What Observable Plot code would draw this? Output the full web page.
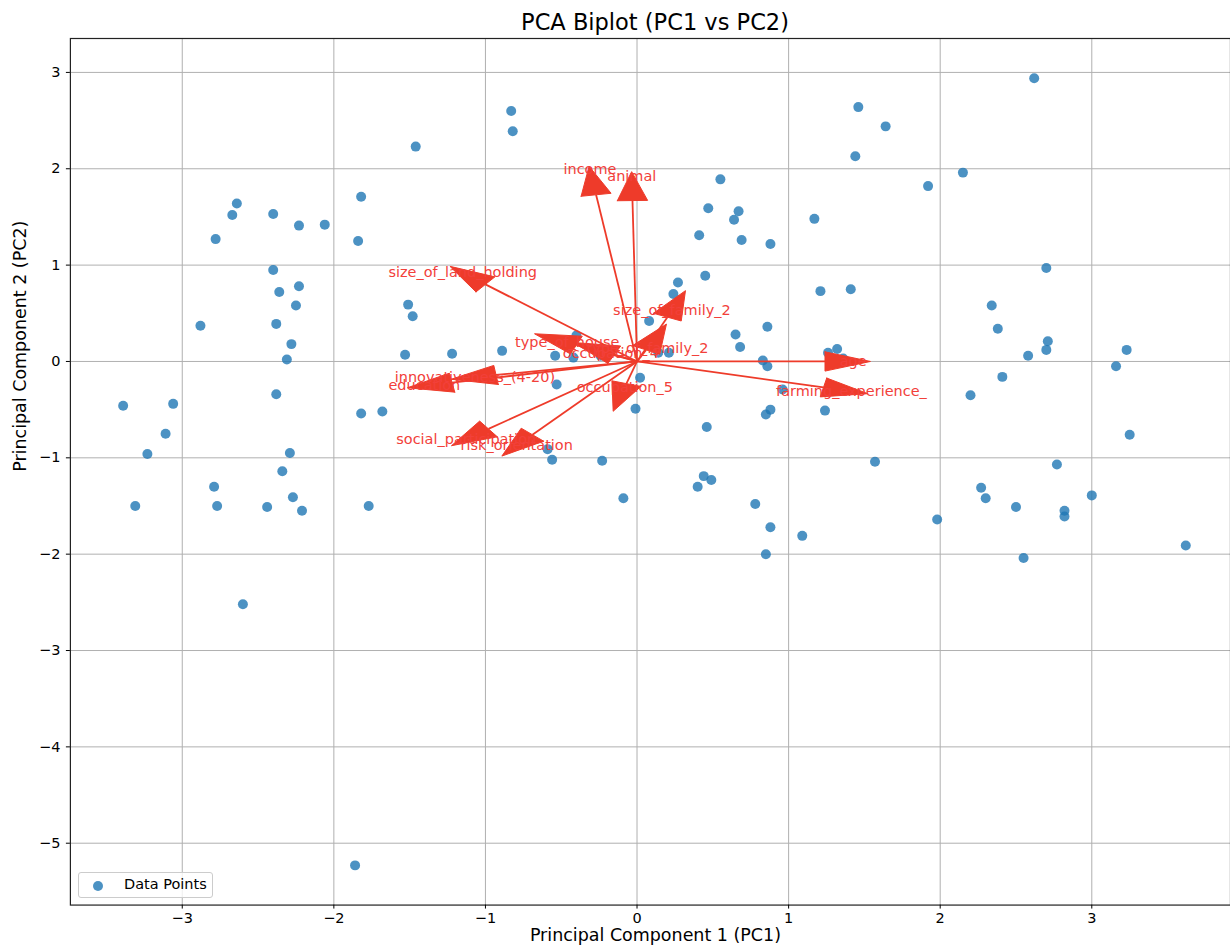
<!DOCTYPE html>
<html>
<head>
<meta charset="utf-8">
<script src="https://cdn.jsdelivr.net/npm/d3@7"></script>
<script src="https://cdn.jsdelivr.net/npm/@observablehq/plot@0.6"></script>
<style>
  html, body { margin: 0; padding: 0; background: #fff; overflow: hidden; }
  #wrap { position: relative; width: 1230px; height: 952px; font-family: "DejaVu Sans", sans-serif; }
  #title { height: 37px; width: 1310px; text-align: center; font-size: 22.5px; line-height: 26px; box-sizing: border-box; color: #000; }
  #title span { position: relative; top: 9px; }
  #legend { position: absolute; left: 78px; top: 872px; width: 135px; height: 26px; border: 1px solid #cccccc; border-radius: 3px; background: rgba(255,255,255,0.8); box-sizing: border-box; font-size: 14.5px; color: #000; }
  #legend .dot { position: absolute; left: 14px; top: 8px; width: 10px; height: 10px; border-radius: 50%; background: #1f77b4; opacity: 0.8; }
  #legend .lbl { position: absolute; left: 45px; top: 3px; }
</style>
</head>
<body>
<div id="wrap">
  <div id="title"><span>PCA Biplot (PC1 vs PC2)</span></div>
  <div id="chart"></div>
  <div id="legend"><div class="dot"></div><div class="lbl">Data Points</div></div>
</div>
<script>
// ---- Data: principal component scores ----
const pc1 = [
  -3.39, -3.06, -3.11, -3.23, -3.31, -2.88, -2.78, -2.67, -2.64, -2.79,
  -2.77, -2.60, -2.40, -2.40, -2.36, -2.38, -2.38, -2.31, -2.28, -2.29,
  -2.34, -2.27, -2.44, -2.21, -2.23, -2.25, -2.23, -2.06, -1.84, -1.82,
  -1.82, -1.68, -1.77, -1.86, -1.46, -1.51, -1.48, -1.53, -1.22, -0.89,
  -0.83, -0.82, -0.59, -0.56, -0.53, -0.54, -0.42, -0.40, -0.23, -0.09,
  -0.01, 0.02, 0.08, 0.14, 0.21, -0.24, 0.24, 0.27, 0.41, 0.47,
  0.55, 0.45, 0.64, 0.67, 0.69, 0.65, 0.68, 0.40, 0.44, 0.49,
  0.46, 0.88, 0.86, 0.83, 0.86, 0.88, 0.85, 0.78, 0.88, 0.85,
  0.96, 1.09, 1.17, 1.21, 1.41, 1.24, 1.26, 1.32, 1.36, 1.46,
  1.44, 1.64, 1.57, 1.92, 2.15, 1.98, 2.20, 2.34, 2.38, 2.41,
  2.27, 2.30, 2.50, 2.55, 2.58, 2.62, 2.70, 2.71, 2.70, 2.77,
  2.82, 2.82, 3.00, 3.16, 3.23, 3.25, 3.62
];
const pc2 = [
  -0.46, -0.44, -0.75, -0.96, -1.50, 0.37, 1.27, 1.52, 1.64, -1.30,
  -1.50, -2.52, 1.53, 0.95, 0.72, 0.39, -0.34, 0.02, 0.18, -0.95,
  -1.14, -1.41, -1.51, -1.55, 0.78, 0.58, 1.41, 1.42, 1.25, 1.71,
  -0.54, -0.52, -1.50, -5.23, 2.23, 0.59, 0.47, 0.07, 0.08, 0.11,
  2.60, 2.39, -0.91, -1.02, -0.24, 0.06, 0.04, 0.27, -1.03, -1.42,
  -0.49, -0.17, 0.42, 0.09, 0.09, 0.06, 0.70, 0.82, 1.31, 1.59,
  1.89, 0.89, 1.47, 1.56, 1.26, 0.28, 0.15, -1.30, -1.19, -1.23,
  -0.68, 1.22, 0.36, 0.01, -0.05, -0.50, -0.55, -1.48, -1.72, -2.00,
  -0.29, -1.81, 1.48, 0.73, 0.75, -0.51, 0.09, 0.13, 0.03, 2.64,
  2.13, 2.44, -1.04, 1.82, 1.96, -1.64, -0.35, 0.58, 0.34, -0.16,
  -1.31, -1.42, -1.51, -2.04, 0.06, 2.94, 0.12, 0.21, 0.97, -1.07,
  -1.55, -1.61, -1.39, -0.05, 0.12, -0.76, -1.91
];

// ---- Data: variable loadings (arrows) ----
const varNames = [
  "income", "animal", "size_of_land_holding", "size_of_family_2",
  "type_of_house", "type_of_family_2", "occupation_4", "occupation_5",
  "innovativeness_(4-20)", "education", "social_participation",
  "risk_orientation", "age", "farming_experience_"
];
const loadPC1 = [-0.27, -0.03, -1.00, 0.20, -0.40, 0.06, -0.15, -0.07, -0.93, -1.22, -0.98, -0.69, 1.24, 1.23];
const loadPC2 = [1.73, 1.67, 0.80, 0.46, 0.17, 0.12, 0.07, -0.23, -0.14, -0.22, -0.70, -0.76, 0.00, -0.27];

// ---- Tick values ----
const xTicks = [-3, -2, -1, 0, 1, 2, 3];
const yTicks = [-5, -4, -3, -2, -1, 0, 1, 2, 3];

// ---- Build tables ----
const points = pc1.map((v, i) => ({x: v, y: pc2[i]}));
const arrows = varNames.map((n, i) => ({name: n, x: loadPC1[i], y: loadPC2[i]}));

// arrow heads as in matplotlib (data units): head_width 0.2, head_length 0.3
const headWidth = 0.2, headLength = 0.3, labelScale = 1.15;
const heads = [];
for (const a of arrows) {
  const len = Math.hypot(a.x, a.y);
  const ux = a.x / len, uy = a.y / len;
  const nx = -uy, ny = ux;
  const tip = {x: a.x + headLength * ux, y: a.y + headLength * uy};
  const l = {x: a.x + nx * headWidth / 2, y: a.y + ny * headWidth / 2};
  const r = {x: a.x - nx * headWidth / 2, y: a.y - ny * headWidth / 2};
  for (const p of [l, tip, r, l]) heads.push({name: a.name, x: p.x, y: p.y});
}

const arrowColor = "#ee3b2a";
const textColor = "#f2403a";
const intFmt = d => (d < 0 ? "\u2212" : "") + Math.abs(d).toString();

const chart = Plot.plot({
  width: 1232,
  height: 915,
  marginTop: 1,
  marginLeft: 70,
  marginRight: 0,
  marginBottom: 46,
  style: {fontFamily: "DejaVu Sans, sans-serif", fontSize: "14.5px", background: "#fff", color: "#000"},
  x: {domain: [-3.738, 3.915]},
  y: {domain: [-5.642, 3.352]},
  marks: [
    Plot.gridX(xTicks, {stroke: "#b0b0b0", strokeOpacity: 1, strokeWidth: 1}),
    Plot.gridY(yTicks, {stroke: "#b0b0b0", strokeOpacity: 1, strokeWidth: 1}),
    Plot.dot(points, {x: "x", y: "y", r: 5, fill: "#1f77b4", fillOpacity: 0.8, stroke: null}),
    Plot.link(arrows, {x1: d => 0, y1: d => 0, x2: "x", y2: "y", stroke: arrowColor, strokeWidth: 1.8}),
    Plot.line(heads, {x: "x", y: "y", z: "name", fill: arrowColor, stroke: arrowColor, strokeWidth: 1, curve: "linear"}),
    Plot.text(arrows, {x: d => d.x * labelScale, y: d => d.y * labelScale, text: "name", fill: textColor, fontSize: 14.5, textAnchor: "middle"}),
    Plot.frame({stroke: "#222", strokeWidth: 1.2}),
    Plot.axisX(xTicks, {tickSize: 4, tickPadding: 4, label: null, fontSize: 14.5, stroke: "#000", tickFormat: intFmt}),
    Plot.axisY(yTicks, {tickSize: 4, tickPadding: 6, label: null, fontSize: 14.5, stroke: "#000", tickFormat: intFmt}),
    Plot.text(["Principal Component 1 (PC1)"], {frameAnchor: "bottom", dx: 5, dy: 36, fontSize: 17.5, fill: "#000"}),
    Plot.text(["Principal Component 2 (PC2)"], {frameAnchor: "left", dx: -50, rotate: -90, fontSize: 17.5, fill: "#000"})
  ]
});
document.getElementById("chart").appendChild(chart);
</script>
</body>
</html>
